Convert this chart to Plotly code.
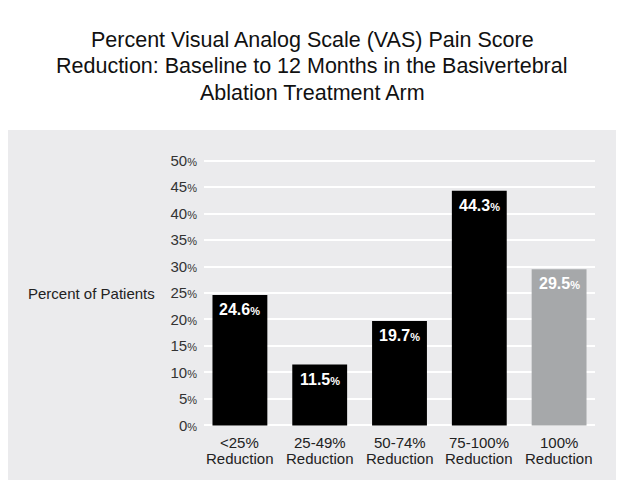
import plotly.graph_objects as go

categories = ["<25%", "25-49%", "50-74%", "75-100%", "100%"]
category_sub = ["Reduction", "Reduction", "Reduction", "Reduction", "Reduction"]
values = [24.6, 11.5, 19.7, 44.3, 29.5]
bar_colors = ["#000000", "#000000", "#000000", "#000000", "#a6a8aa"]
tick_vals = [0, 5, 10, 15, 20, 25, 30, 35, 40, 45, 50]
tick_text = [f"{v}<span style='font-size:11px'>%</span>" for v in tick_vals]

FONT = "Liberation Sans, Arial, Helvetica"
# page body has an 8px margin; figure coordinates are screen coordinates - 8
OFF = 8
W, H = 624 - 2 * OFF, 488 - 2 * OFF
L, R = 203.5 - OFF, 595.5 - OFF
T, B = 159.1 - OFF, 427.3 - OFF
PH = B - T
PW = R - L


def px_to_paper_y(ypx):
    return (B - (ypx - OFF)) / PH


def px_to_paper_x(xpx):
    return ((xpx - OFF) - L) / PW


fig = go.Figure()
fig.add_trace(go.Bar(
    x=list(range(len(categories))), y=values,
    marker=dict(color=bar_colors, line=dict(width=0)),
    width=0.6875, hoverinfo="skip",
))

for i, v in enumerate(values):
    fig.add_annotation(
        x=i, y=v, xref="x", yref="y", yanchor="top", yshift=-4,
        text=f"<b>{v}</b><span style='font-size:11px'><b>%</b></span>",
        showarrow=False, font=dict(family=FONT, size=16, color="white"),
    )

for i, (c, s) in enumerate(zip(categories, category_sub)):
    fig.add_annotation(x=i, y=px_to_paper_y(443), xref="x", yref="paper",
                       yanchor="middle", text=c, showarrow=False,
                       font=dict(family=FONT, size=15, color="#222"))
    fig.add_annotation(x=i, y=px_to_paper_y(459), xref="x", yref="paper",
                       yanchor="middle", text=s, showarrow=False,
                       font=dict(family=FONT, size=15, color="#222"))

fig.add_annotation(
    x=px_to_paper_x(25), y=25, xref="paper", yref="y", xanchor="left",
    text="Percent of Patients", showarrow=False,
    font=dict(family=FONT, size=15, color="#222"),
)

title_lines = ["Percent Visual Analog Scale (VAS) Pain Score",
               "Reduction: Baseline to 12 Months in the Basivertebral",
               "Ablation Treatment Arm"]
for k, line in enumerate(title_lines):
    fig.add_annotation(
        x=px_to_paper_x(312), y=px_to_paper_y(40 + 26.5 * k), xref="paper", yref="paper",
        xanchor="center", yanchor="middle", text=line, showarrow=False,
        font=dict(family=FONT, size=21.5, color="#111"),
    )

fig.add_shape(
    type="rect", xref="paper", yref="paper", layer="below",
    x0=px_to_paper_x(0), x1=px_to_paper_x(620),
    y0=px_to_paper_y(482), y1=px_to_paper_y(130),
    fillcolor="#ebebed", line=dict(width=0),
)

fig.update_layout(
    width=W, height=H,
    margin=dict(l=L, r=W - R, t=T, b=H - B, pad=0),
    paper_bgcolor="white", plot_bgcolor="rgba(0,0,0,0)",
    showlegend=False, bargap=0.3125,
    font=dict(family=FONT, size=15, color="#222"),
)

fig.update_xaxes(
    range=[-0.45, 4.45], showticklabels=False,
    showgrid=False, zeroline=False, showline=False, ticks="",
)
fig.update_yaxes(
    range=[-0.3, 50.3], tickvals=tick_vals, ticktext=tick_text,
    showgrid=True, gridcolor="white", gridwidth=2, zeroline=False, showline=False,
    ticks="", ticklabelstandoff=6, tickfont=dict(family=FONT, size=15, color="#333"),
)

fig.write_html("out.html")
